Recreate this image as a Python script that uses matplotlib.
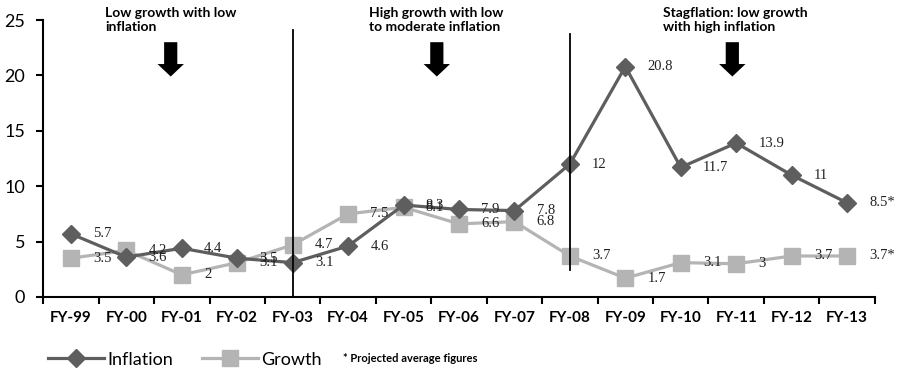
import matplotlib
matplotlib.use("Agg")
import matplotlib.pyplot as plt
import numpy as np

years = ["FY-99", "FY-00", "FY-01", "FY-02", "FY-03", "FY-04", "FY-05", "FY-06",
         "FY-07", "FY-08", "FY-09", "FY-10", "FY-11", "FY-12", "FY-13"]
inflation = [5.7, 3.6, 4.4, 3.5, 3.1, 4.6, 8.3, 7.9, 7.8, 12, 20.8, 11.7, 13.9, 11, 8.5]
growth = [3.5, 4.2, 2, 3.1, 4.7, 7.5, 8.1, 6.6, 6.8, 3.7, 1.7, 3.1, 3, 3.7, 3.7]
inflation_labels = ["5.7", "3.6", "4.4", "3.5", "3.1", "4.6", "8.3", "7.9", "7.8",
                    "12", "20.8", "11.7", "13.9", "11", "8.5*"]
growth_labels = ["3.5", "4.2", "2", "3.1", "4.7", "7.5", "8.1", "6.6", "6.8",
                 "3.7", "1.7", "3.1", "3", "3.7", "3.7*"]

# phase annotations: (text, text x position, arrow x position)
phases = [("Low growth with low\ninflation", 0.62, 1.8),
          ("High growth with low\nto moderate inflation", 5.38, 6.6),
          ("Stagflation: low growth\nwith high inflation", 10.68, 11.93)]
dividers = [(4, 0, 24.1), (9, 2.4, 23.7)]

inf_color = "#5e5e5e"
gro_color = "#b4b4b4"
sans = "Lato"
serif = "Liberation Serif"

fig = plt.figure(figsize=(9, 3.71), dpi=100)
ax = fig.add_axes([0.048, 0.1995, 0.924, 0.7465])
x = np.arange(len(years))

ax.plot(x, inflation, color=inf_color, lw=2.3, marker="D", ms=9, label="Inflation", zorder=3)
ax.plot(x, growth, color=gro_color, lw=2.3, marker="s", ms=11, label="Growth", zorder=2)

for xi, v, t in zip(x, inflation, inflation_labels):
    ax.annotate(t, (xi, v), xytext=(16, 0), textcoords="offset points",
                ha="left", va="center", fontsize=10.5, family=serif, color="#222222")
for xi, v, t in zip(x, growth, growth_labels):
    ax.annotate(t, (xi, v), xytext=(16, 0), textcoords="offset points",
                ha="left", va="center", fontsize=10.5, family=serif, color="#222222")

for xv, y0, y1 in dividers:
    ax.plot([xv, xv], [y0, y1], color="black", lw=1.3, zorder=4)

for text, tx, axx in phases:
    ax.text(tx, 26.2, text, ha="left", va="top", fontsize=10, fontweight="bold",
            family=sans, linespacing=1.2)
    ax.annotate("", xy=(axx, 19.9), xytext=(axx, 23.0),
                arrowprops=dict(arrowstyle="simple,head_width=1.9,head_length=0.9,tail_width=0.95",
                                color="black", lw=0, shrinkA=0, shrinkB=0))

ax.set_xlim(-0.5, 14.5)
ax.set_ylim(0, 25)
ax.set_yticks([0, 5, 10, 15, 20, 25])
ax.set_xticks(x)
ax.set_xticklabels(years, fontsize=11, fontweight="bold", family=sans)
ax.set_xticks(np.arange(-0.5, 15, 1), minor=True)
ax.tick_params(axis="x", which="major", length=0, pad=10)
ax.tick_params(axis="x", which="minor", length=5, width=1.5, direction="out")
ax.tick_params(axis="y", length=5, width=1.5, labelsize=13, pad=8)
for lab in ax.get_yticklabels():
    lab.set_family(sans)
for s in ["top", "right"]:
    ax.spines[s].set_visible(False)
for s in ["left", "bottom"]:
    ax.spines[s].set_linewidth(1.5)

leg = fig.legend(loc="lower left", bbox_to_anchor=(0.035, -0.035), ncol=2, frameon=False,
                 prop={"family": sans, "size": 13}, handlelength=3.1, columnspacing=1.6,
                 handletextpad=0.2)
fig.text(0.381, 0.035, "* Projected average figures", fontsize=8, fontweight="bold",
         family=sans, ha="left", va="center")

fig.savefig("out.png", dpi=100)
